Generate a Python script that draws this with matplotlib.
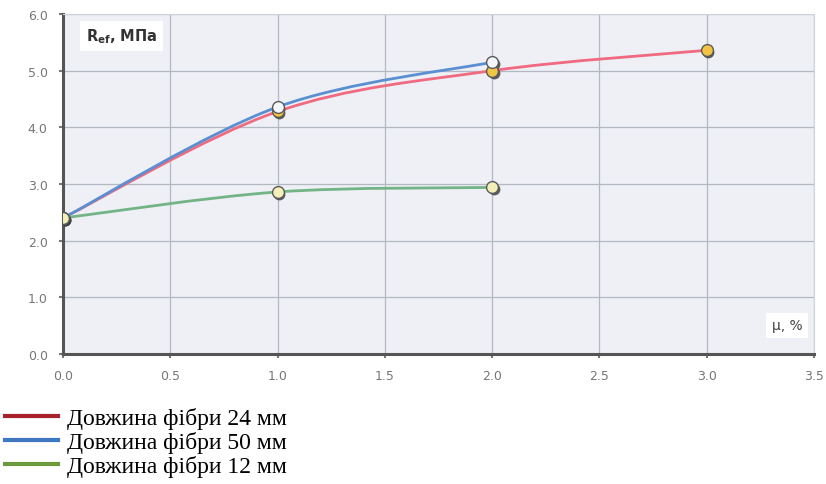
import numpy as np
import matplotlib.pyplot as plt
from matplotlib.path import Path
from matplotlib.patches import PathPatch
from matplotlib.lines import Line2D

# дані
mu_24 = [0.0, 1.0, 2.0, 3.0]
r_24 = [2.40, 4.28, 5.00, 5.36]
mu_50 = [0.0, 1.0, 2.0]
r_50 = [2.40, 4.36, 5.15]
mu_12 = [0.0, 1.0, 2.0]
r_12 = [2.40, 2.86, 2.94]
labels = ["Довжина фібри 24 мм", "Довжина фібри 50 мм", "Довжина фібри 12 мм"]


def smooth_path(x, y, k=1/6):
    # згладжена лінія як в Excel (кубічні криві Безьє)
    pts = np.column_stack([x, y])
    verts = [pts[0]]
    codes = [Path.MOVETO]
    n = len(pts)
    for i in range(n - 1):
        p0 = pts[i - 1] if i > 0 else pts[i]
        p1, p2 = pts[i], pts[i + 1]
        p3 = pts[i + 2] if i + 2 < n else pts[i + 1]
        c1 = p1 + (p2 - p0) * k
        c2 = p2 - (p3 - p1) * k
        verts += [c1, c2, p2]
        codes += [Path.CURVE4] * 3
    return Path(verts, codes)


fig = plt.figure(figsize=(8.26, 4.85), dpi=100)
ax = fig.add_axes([0.0763, 0.268, 0.909, 0.701])
ax.set_facecolor("#eef0f6")

series = [
    (mu_24, r_24, "#f06a80", "#f2c444"),
    (mu_50, r_50, "#5a8fd2", "#f4f6fa"),
    (mu_12, r_12, "#72b486", "#f2f0b8"),
]
for x, y, col, mfc in series:
    ax.add_patch(PathPatch(smooth_path(x, y), fill=False, edgecolor=col, lw=2, zorder=3))
for x, y, col, mfc in series:
    ax.plot(np.array(x) + 0.008, np.array(y) - 0.035, "o", ms=8.5, color="#404040",
            alpha=0.85, mew=0, zorder=4)
    ax.plot(x, y, "o", ms=8.5, mfc=mfc, mec="#5a5a5a", mew=1, zorder=5)

ax.set_xlim(0, 3.5)
ax.set_ylim(0, 6)
ax.set_xticks(np.arange(0, 3.51, 0.5))
ax.set_yticks(np.arange(0, 6.01, 1.0))
ax.set_xticklabels([f"{v:.1f}" for v in np.arange(0, 3.51, 0.5)])
ax.set_yticklabels([f"{v:.1f}" for v in np.arange(0, 6.01, 1.0)])
ax.grid(True, color="#b4b8c0", lw=0.9)
ax.set_axisbelow(True)
ax.tick_params(colors="#777777", labelsize=9, length=3, width=1.5, pad=8)
for s in ["top", "right"]:
    ax.spines[s].set_color("#d0d3da")
    ax.spines[s].set_linewidth(0.8)
for s in ["left", "bottom"]:
    ax.spines[s].set_color("#555555")
    ax.spines[s].set_linewidth(2.2)

ax.text(0.03, 0.935, r"R$_{\mathbf{ef}}$, МПа", transform=ax.transAxes, fontsize=10.5,
        fontweight="bold", color="#333333", va="center",
        bbox=dict(facecolor="white", edgecolor="none", pad=4))
ax.text(0.985, 0.085, "μ, %", transform=ax.transAxes, fontsize=10, color="#444444",
        ha="right", va="center", bbox=dict(facecolor="white", edgecolor="none", pad=4))

handles = [Line2D([], [], color=c, lw=3) for c in ["#a8222c", "#3e78c2", "#6a9a3c"]]
fig.legend(handles, labels, loc="upper left", bbox_to_anchor=(0.006, 0.158), frameon=False,
           prop={"family": "Liberation Serif", "size": 17}, handlelength=2.25,
           labelspacing=0.08, handletextpad=0.38, borderaxespad=0, borderpad=0)

fig.savefig("out.png", dpi=100)
